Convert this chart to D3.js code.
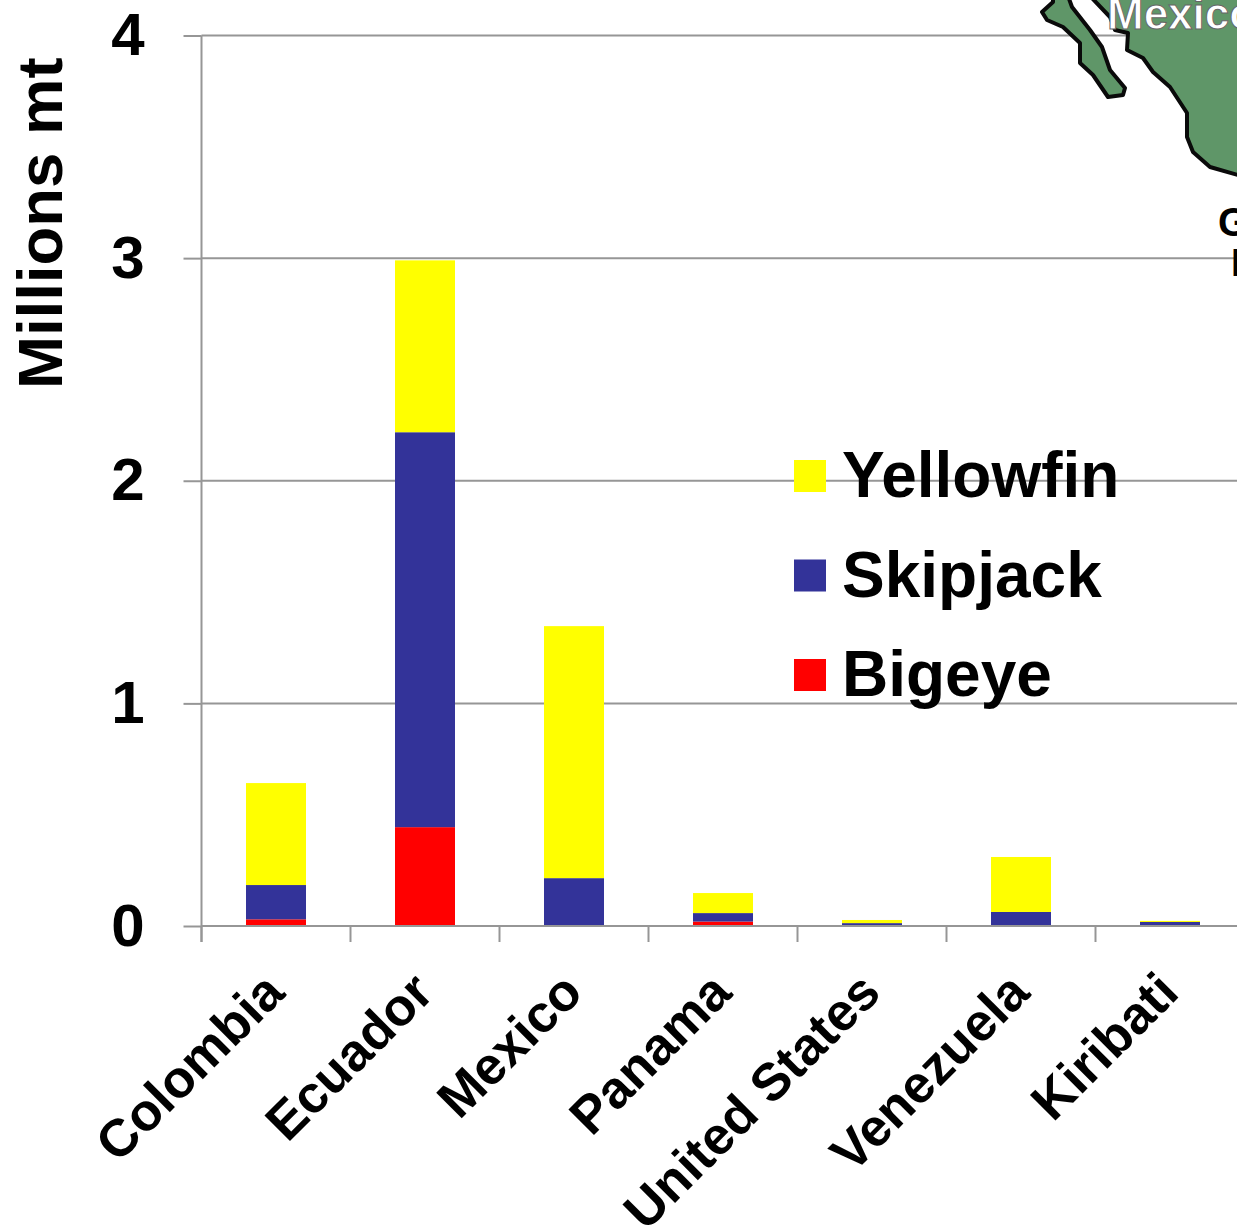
<!DOCTYPE html>
<html>
<head>
<meta charset="utf-8">
<script src="https://cdn.jsdelivr.net/npm/d3@7"></script>
<style>
  html, body { margin: 0; padding: 0; background: #fff; overflow: hidden; }
  svg { display: block; }
  text { font-family: "Liberation Sans", Arial, sans-serif; font-weight: bold; fill: #000; }
  .grid, .tick-mark, .axis-line { stroke: #969696; stroke-width: 2; fill: none; }
  .map { fill: #5f9668; stroke: #0a0a0a; stroke-width: 4; stroke-linejoin: round; }
</style>
</head>
<body>
<svg id="chart" width="1237" height="1230"></svg>
<script>
var countries = ["Colombia", "Ecuador", "Mexico", "Panama", "United States", "Venezuela", "Kiribati"];
var speciesNames = ["Bigeye", "Skipjack", "Yellowfin"];
var bigeye = [0.03, 0.444, 0.003, 0.02, 0.002, 0.002, 0.003];
var skipjack = [0.154, 1.774, 0.212, 0.038, 0.011, 0.061, 0.015];
var yellowfin = [0.458, 0.772, 1.132, 0.09, 0.014, 0.247, 0.005];
var yTicks = [0, 1, 2, 3, 4];
var speciesColors = ["#ff0000", "#333399", "#ffff00"];

var svg = d3.select("#chart");
var plotLeft = 201.5, plotBottom = 926, plotTop = 35.5;
var step = 149;

var xScale = d3.scaleBand()
    .domain(countries)
    .range([plotLeft, plotLeft + step * countries.length])
    .paddingInner(89 / 149)
    .paddingOuter(44.5 / 149);

var yScale = d3.scaleLinear().domain([0, 4]).range([plotBottom, plotTop]);

var rows = countries.map(function(c, i) {
  return {country: c, Bigeye: bigeye[i], Skipjack: skipjack[i], Yellowfin: yellowfin[i]};
});
var stacked = d3.stack().keys(speciesNames)(rows);

// gridlines
svg.selectAll("line.grid")
    .data(yTicks.filter(function(d) { return d > 0; }))
    .enter().append("line")
    .attr("class", "grid")
    .attr("x1", plotLeft)
    .attr("x2", 1237)
    .attr("y1", function(d) { return yScale(d); })
    .attr("y2", function(d) { return yScale(d); });

// inset map over the gridlines, runs off the top right corner
var map = svg.append("g");
map.append("path")
    .attr("class", "map")
    .attr("d", "M1053,-4 L1053,2 L1042,12 L1047,20 L1063,27 L1080,43 L1080,63 L1093,75 L1108,97 L1123,95 L1125,88 L1110,70 L1102,47 L1090,30 L1072,7 L1068,-4 Z");
map.append("path")
    .attr("class", "map")
    .attr("d", "M1090,-4 L1110,17 L1115,30 L1128,33 L1127,50 L1143,58 L1153,72 L1170,87 L1187,113 L1187,137 L1193,152 L1210,167 L1245,177 L1245,-4 Z");
map.append("text")
    .attr("x", 1107)
    .attr("y", 29)
    .style("font-size", "44px")
    .style("fill", "#fff")
    .style("stroke", "#666")
    .style("stroke-width", 1)
    .text("Mexico");
map.append("text")
    .attr("x", 1218)
    .attr("y", 236)
    .style("font-size", "40px")
    .text("G");
map.append("text")
    .attr("x", 1231)
    .attr("y", 276)
    .style("font-size", "38px")
    .text("I");

// stacked bars
svg.selectAll("g.series")
    .data(stacked)
    .enter().append("g")
    .attr("class", "series")
    .attr("fill", function(d, i) { return speciesColors[i]; })
    .selectAll("rect")
    .data(function(d) { return d; })
    .enter().append("rect")
    .attr("x", function(d) { return xScale(d.data.country); })
    .attr("width", xScale.bandwidth())
    .attr("y", function(d) { return yScale(d[1]); })
    .attr("height", function(d) { return yScale(d[0]) - yScale(d[1]); });

// y axis
var yAxis = d3.axisLeft(yScale).tickValues(yTicks).tickSize(18).tickPadding(39).tickFormat(d3.format("d"));
var yG = svg.append("g").attr("transform", "translate(" + plotLeft + ",0)").call(yAxis);
yG.select(".domain").remove();
yG.selectAll(".tick line").attr("class", "tick-mark");
yG.selectAll(".tick text").style("font-size", "60px").attr("font-family", null);
svg.append("line").attr("class", "axis-line")
    .attr("x1", plotLeft).attr("x2", plotLeft).attr("y1", plotTop).attr("y2", plotBottom + 16);
svg.append("line").attr("class", "axis-line")
    .attr("x1", plotLeft).attr("x2", 1237).attr("y1", plotBottom).attr("y2", plotBottom);

// x ticks sit on the band edges, labels are rotated under each band
svg.selectAll("line.x-tick")
    .data(countries)
    .enter().append("line")
    .attr("class", "tick-mark x-tick")
    .attr("x1", function(d) { return xScale(d) - xScale.step() * 44.5 / 149; })
    .attr("x2", function(d) { return xScale(d) - xScale.step() * 44.5 / 149; })
    .attr("y1", plotBottom)
    .attr("y2", plotBottom + 16);

svg.selectAll("text.country")
    .data(countries)
    .enter().append("text")
    .attr("class", "country")
    .attr("text-anchor", "end")
    .attr("transform", function(d) {
      return "translate(" + (xScale(d) + xScale.bandwidth() / 2 + 11) + ",995) rotate(-45)";
    })
    .style("font-size", "52.5px")
    .text(function(d) { return d; });

// y title
svg.append("text")
    .attr("transform", "translate(62,389) rotate(-90)")
    .style("font-size", "63.5px")
    .text("Millions mt");

// legend, top entry is the top of the stack
var legendY = d3.scalePoint().domain(speciesNames.slice().reverse()).range([476, 675]);
var legend = svg.selectAll("g.legend")
    .data(speciesNames)
    .enter().append("g")
    .attr("class", "legend")
    .attr("transform", function(d) { return "translate(794," + legendY(d) + ")"; });
legend.append("rect")
    .attr("y", -16)
    .attr("width", 32)
    .attr("height", 32)
    .attr("fill", function(d, i) { return speciesColors[i]; });
legend.append("text")
    .attr("x", 48)
    .attr("y", 21)
    .style("font-size", "64px")
    .text(function(d) { return d; });
</script>
</body>
</html>
